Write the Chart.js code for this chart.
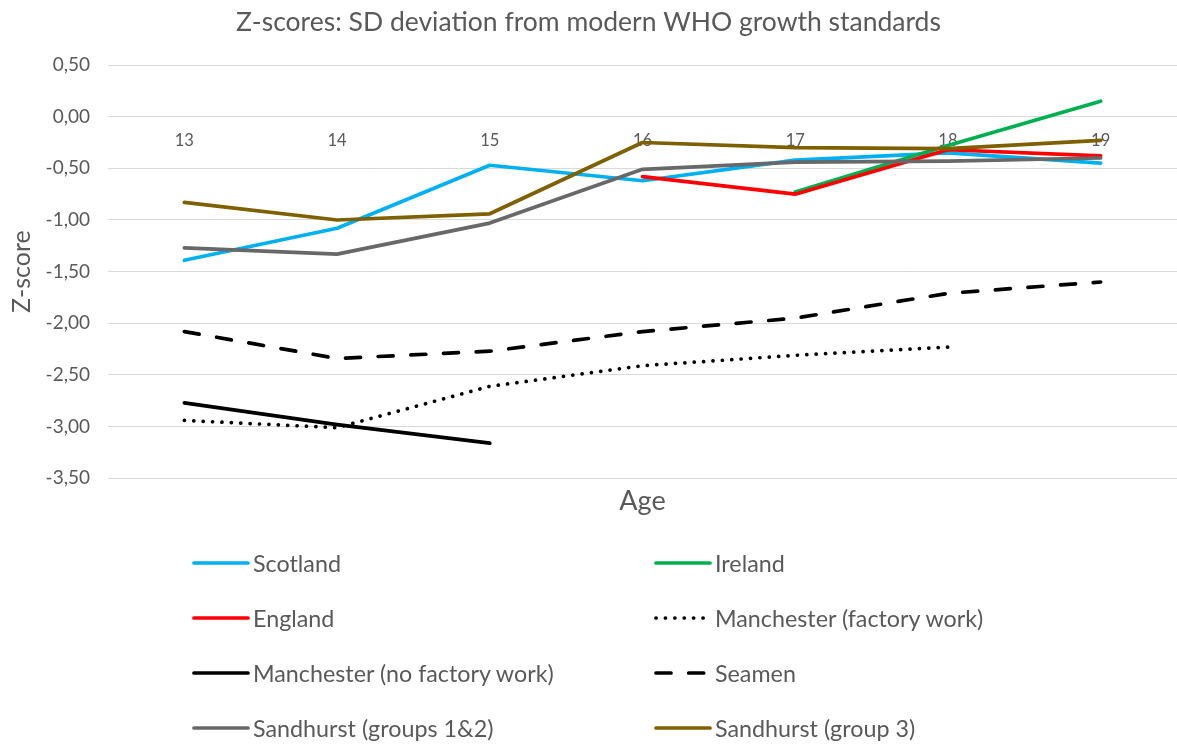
<!DOCTYPE html>
<html>
<head>
<meta charset="utf-8">
<title>Z-scores</title>
<script src="https://cdn.jsdelivr.net/npm/chart.js@4.4.1/dist/chart.umd.min.js"></script>
<style>
    body { margin: 0; background: #fff; }
    #wrap { position: relative; width: 1177px; height: 744px; }
    #legend { position: absolute; left: 0; top: 0; width: 1177px; height: 744px; pointer-events: none; font-family: Lato, "Open Sans", sans-serif; }
    .item { position: absolute; display: flex; align-items: center; height: 30px; color: #595959; font-size: 23.3px; white-space: nowrap; }
    .item svg { margin-right: 3px; }
</style>
</head>
<body>
<div id="wrap">
    <canvas id="chart" width="1177" height="744"></canvas>
    <div id="legend"></div>
</div>
<script>
// data
const ages = ["13", "14", "15", "16", "17", "18", "19"];

const scotland = [-1.39, -1.08, -0.47, -0.62, -0.42, -0.35, -0.45];
const ireland = [null, null, null, null, -0.73, -0.28, 0.15];
const england = [null, null, null, -0.58, -0.75, -0.32, -0.38];
const manchesterFactory = [-2.94, -3.01, -2.61, -2.41, -2.31, -2.23, null];
const manchesterNoFactory = [-2.77, -2.98, -3.16, null, null, null, null];
const seamen = [-2.08, -2.34, -2.27, -2.08, -1.95, -1.71, -1.60];
const sandhurst12 = [-1.27, -1.33, -1.03, -0.51, -0.44, -0.43, -0.40];
const sandhurst3 = [-0.83, -1.00, -0.94, -0.25, -0.30, -0.31, -0.23];

const seriesNames = [
    "Scotland", "Ireland", "England", "Manchester (factory work)",
    "Manchester (no factory work)", "Seamen", "Sandhurst (groups 1&2)", "Sandhurst (group 3)"
];
const seriesValues = [scotland, ireland, england, manchesterFactory, manchesterNoFactory, seamen, sandhurst12, sandhurst3];

const yMin = -3.5;
const yMax = 0.5;
const yStep = 0.5;

// styles
const colors = ["#00B0F0", "#00B050", "#FF0000", "#000000", "#000000", "#000000", "#686868", "#7F6000"];
const dashes = [[], [], [], [0.1, 9.3], [], [15, 17.7], [], []];
const LINE_W = 3.7;

const textColor = "#595959";
Chart.defaults.font.family = "Lato, 'Open Sans', sans-serif";
Chart.defaults.color = textColor;

const ctx = document.getElementById("chart");

const chart = new Chart(ctx, {
    type: "line",
    data: {
        labels: ages,
        datasets: seriesNames.map((name, i) => ({
            label: name,
            data: seriesValues[i],
            borderColor: colors[i],
            backgroundColor: colors[i],
            borderWidth: LINE_W,
            borderDash: dashes[i],
            borderCapStyle: "round",
            borderJoinStyle: "round",
            pointRadius: 0,
            tension: 0,
            fill: false,
            spanGaps: false,
            order: seriesNames.length - i   // excel draws later series on top
        }))
    },
    options: {
        responsive: false,
        animation: false,
        layout: { padding: { left: 0, right: 0, top: 0, bottom: 225.7 } },
        plugins: {
            legend: { display: false },
            tooltip: { enabled: false },
            title: {
                display: true,
                text: "Z-scores: SD deviation from modern WHO growth standards",
                color: textColor,
                font: { size: 26.5, weight: "normal" },
                padding: { top: 6.1, bottom: 27.1 }
            }
        },
        scales: {
            y: {
                min: yMin,
                max: yMax,
                ticks: {
                    stepSize: yStep,
                    padding: 18,
                    color: textColor,
                    font: { size: 19 },
                    callback: v => v.toFixed(2).replace(".", ",")
                },
                grid: { color: "#d9d9d9", lineWidth: 1, drawTicks: false },
                border: { display: false },
                title: {
                    display: true,
                    text: "Z-score",
                    color: textColor,
                    font: { size: 25 },
                    padding: { top: 7, bottom: 0 }
                },
                afterFit: s => { s.width = 108; }
            },
            x: {
                type: "category",
                position: { y: 0 },
                offset: true,
                grid: { display: false, drawTicks: false },
                border: { display: false },
                ticks: { color: textColor, font: { size: 16.5 }, padding: 14 }
            },
            x2: {
                type: "category",
                labels: ages,
                position: "bottom",
                offset: true,
                grid: { display: false, drawTicks: false },
                border: { display: false },
                ticks: { display: false },
                title: {
                    display: true,
                    text: "Age",
                    color: textColor,
                    font: { size: 27 },
                    padding: { top: 0, bottom: 1 }
                },
                afterFit: s => { s.height = 40; }
            }
        }
    }
});

// html legend, two columns like the excel one
function buildLegend(chart) {
    const box = document.getElementById("legend");
    box.innerHTML = "";
    chart.data.datasets.forEach((ds, i) => {
        const col = i % 2;
        const row = Math.floor(i / 2);
        const item = document.createElement("div");
        item.className = "item";
        item.style.left = (col === 0 ? 192 : 654) + "px";
        item.style.top = (562.7 + row * 55 - 15) + "px";

        const w = 58;
        const svg = document.createElementNS("http://www.w3.org/2000/svg", "svg");
        svg.setAttribute("width", w);
        svg.setAttribute("height", 10);
        const line = document.createElementNS("http://www.w3.org/2000/svg", "line");
        line.setAttribute("x1", 2);
        line.setAttribute("x2", w - 2);
        line.setAttribute("y1", 5);
        line.setAttribute("y2", 5);
        line.setAttribute("stroke", ds.borderColor);
        line.setAttribute("stroke-width", LINE_W);
        line.setAttribute("stroke-linecap", "round");
        if (ds.borderDash.length) line.setAttribute("stroke-dasharray", ds.borderDash.join(" "));
        svg.appendChild(line);

        const label = document.createElement("span");
        label.innerText = ds.label;

        item.appendChild(svg);
        item.appendChild(label);
        box.appendChild(item);
    });
}
buildLegend(chart);
</script>
</body>
</html>
